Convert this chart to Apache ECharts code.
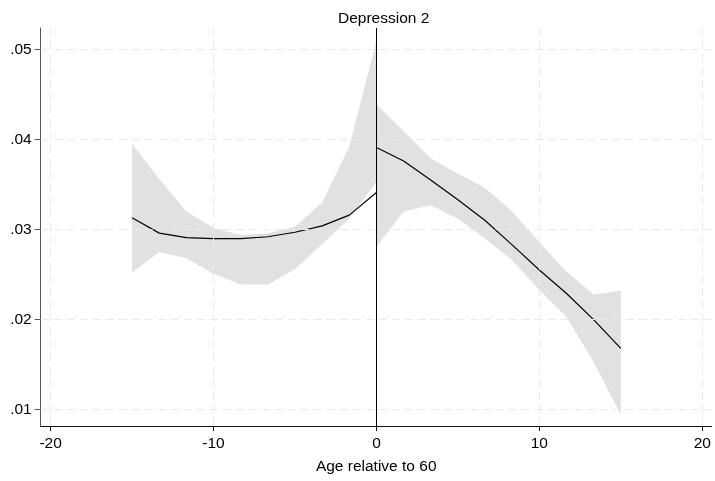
<!DOCTYPE html>
<html>
<head>
<meta charset="utf-8">
<script src="https://cdn.jsdelivr.net/npm/echarts@6/dist/echarts.min.js"></script>
<style>
  html, body { margin: 0; padding: 0; background: #fff; }
  #main { width: 715px; height: 481px; }
</style>
</head>
<body>
<div id="main"></div>
<script>
var myChart = echarts.init(document.getElementById('main'));

// age relative to 60, below and above the cutoff
var agesLeft = [-15, -13.33, -11.67, -10, -8.33, -6.67, -5, -3.33, -1.67, 0];
var agesRight = [0, 1.67, 3.33, 5, 6.67, 8.33, 10, 11.67, 13.33, 15];

// fitted values and confidence bounds
var fitLeft = [0.0313, 0.0296, 0.0291, 0.0290, 0.0290, 0.0292, 0.0297, 0.0304, 0.0316, 0.0341];
var upLeft = [0.0395, 0.0356, 0.0320, 0.0302, 0.0294, 0.0296, 0.0303, 0.0330, 0.0392, 0.0510];
var loLeft = [0.0252, 0.0275, 0.0268, 0.0251, 0.0239, 0.0239, 0.0256, 0.0284, 0.0312, 0.0353];

var fitRight = [0.0391, 0.0376, 0.0355, 0.0333, 0.0310, 0.0283, 0.0255, 0.0229, 0.0200, 0.0168];
var upRight = [0.0439, 0.0409, 0.0379, 0.0362, 0.0346, 0.0320, 0.0286, 0.0253, 0.0228, 0.0232];
var loRight = [0.0281, 0.0320, 0.0327, 0.0312, 0.0290, 0.0266, 0.0233, 0.0203, 0.0153, 0.0094];

var xTicks = [-20, -10, 0, 10, 20];
var yTicks = [0.01, 0.02, 0.03, 0.04, 0.05];

function pairs(xs, ys) {
    var res = [];
    for (var i = 0; i < xs.length; i++) {
        res.push([xs[i], ys[i]]);
    }
    return res;
}

function triples(xs, lo, hi) {
    var res = [];
    for (var i = 0; i < xs.length; i++) {
        res.push([xs[i], lo[i], hi[i]]);
    }
    return res;
}

var FONT = 'Liberation Sans';
var FS = 15.5;
var bandColor = '#e1e1e1';
var gridStyle = { color: '#e9e9e9', type: [8, 5], width: 1 };

// confidence band drawn as one polygon through the axis scales
function bandSeries(xs, lo, hi) {
    return {
        type: 'custom',
        data: triples(xs, lo, hi),
        encode: { x: 0, y: [1, 2] },
        silent: true,
        z: 1,
        renderItem: function (params, api) {
            if (params.dataIndex !== 0) return;
            var pts = [];
            for (var i = 0; i < xs.length; i++) pts.push(api.coord([xs[i], hi[i]]));
            for (var j = xs.length - 1; j >= 0; j--) pts.push(api.coord([xs[j], lo[j]]));
            return {
                type: 'polygon',
                shape: { points: pts },
                style: { fill: bandColor, stroke: null }
            };
        }
    };
}

var gridMarks = [];
xTicks.forEach(function (v) { if (v !== 0) gridMarks.push({ xAxis: v }); });
yTicks.forEach(function (v) { gridMarks.push({ yAxis: v }); });

option = {
    animation: false,
    title: {
        text: 'Depression 2',
        left: 338,
        top: 11,
        padding: 0,
        textStyle: { fontFamily: FONT, fontSize: FS, fontWeight: 'normal', color: '#000' }
    },
    grid: { left: 40.7, right: 3.3, top: 28, bottom: 55, containLabel: false },
    xAxis: {
        type: 'value',
        min: -20.61,
        max: 20.58,
        name: 'Age relative to 60',
        nameLocation: 'middle',
        nameGap: 33,
        nameTextStyle: { fontFamily: FONT, fontSize: FS, color: '#000' },
        axisLine: { show: true, onZero: false, lineStyle: { color: '#111', width: 1 } },
        axisTick: { show: true, length: 5, customValues: xTicks, lineStyle: { color: '#111' } },
        axisLabel: { customValues: xTicks, margin: 10, fontFamily: FONT, fontSize: FS, color: '#000' },
        splitLine: { show: false }
    },
    yAxis: {
        type: 'value',
        min: 0.00819,
        max: 0.05237,
        axisLine: { show: true, onZero: false, lineStyle: { color: '#555', width: 1 } },
        axisTick: { show: true, length: 6, customValues: yTicks, lineStyle: { color: '#555' } },
        axisLabel: {
            customValues: yTicks,
            margin: 9,
            fontFamily: FONT,
            fontSize: FS,
            color: '#000',
            formatter: function (v) { return v.toFixed(2).replace(/^0/, ''); }
        },
        splitLine: { show: false }
    },
    series: [{
        name: 'grid',
        type: 'line',
        data: [],
        z: 0,
        markLine: {
            silent: true,
            symbol: 'none',
            label: { show: false },
            lineStyle: gridStyle,
            data: gridMarks
        }
    },
    bandSeries(agesLeft, loLeft, upLeft),
    bandSeries(agesRight, loRight, upRight),
    {
        name: 'fitLeft',
        type: 'line',
        data: pairs(agesLeft, fitLeft),
        symbol: 'none',
        lineStyle: { color: '#000', width: 1.2 },
        z: 3,
        markLine: {
            silent: true,
            symbol: 'none',
            label: { show: false },
            lineStyle: { color: '#000', type: 'solid', width: 1 },
            data: [{ xAxis: 0 }]
        }
    }, {
        name: 'fitRight',
        type: 'line',
        data: pairs(agesRight, fitRight),
        symbol: 'none',
        lineStyle: { color: '#000', width: 1.2 },
        z: 3
    }]
};

myChart.setOption(option);
</script>
</body>
</html>
